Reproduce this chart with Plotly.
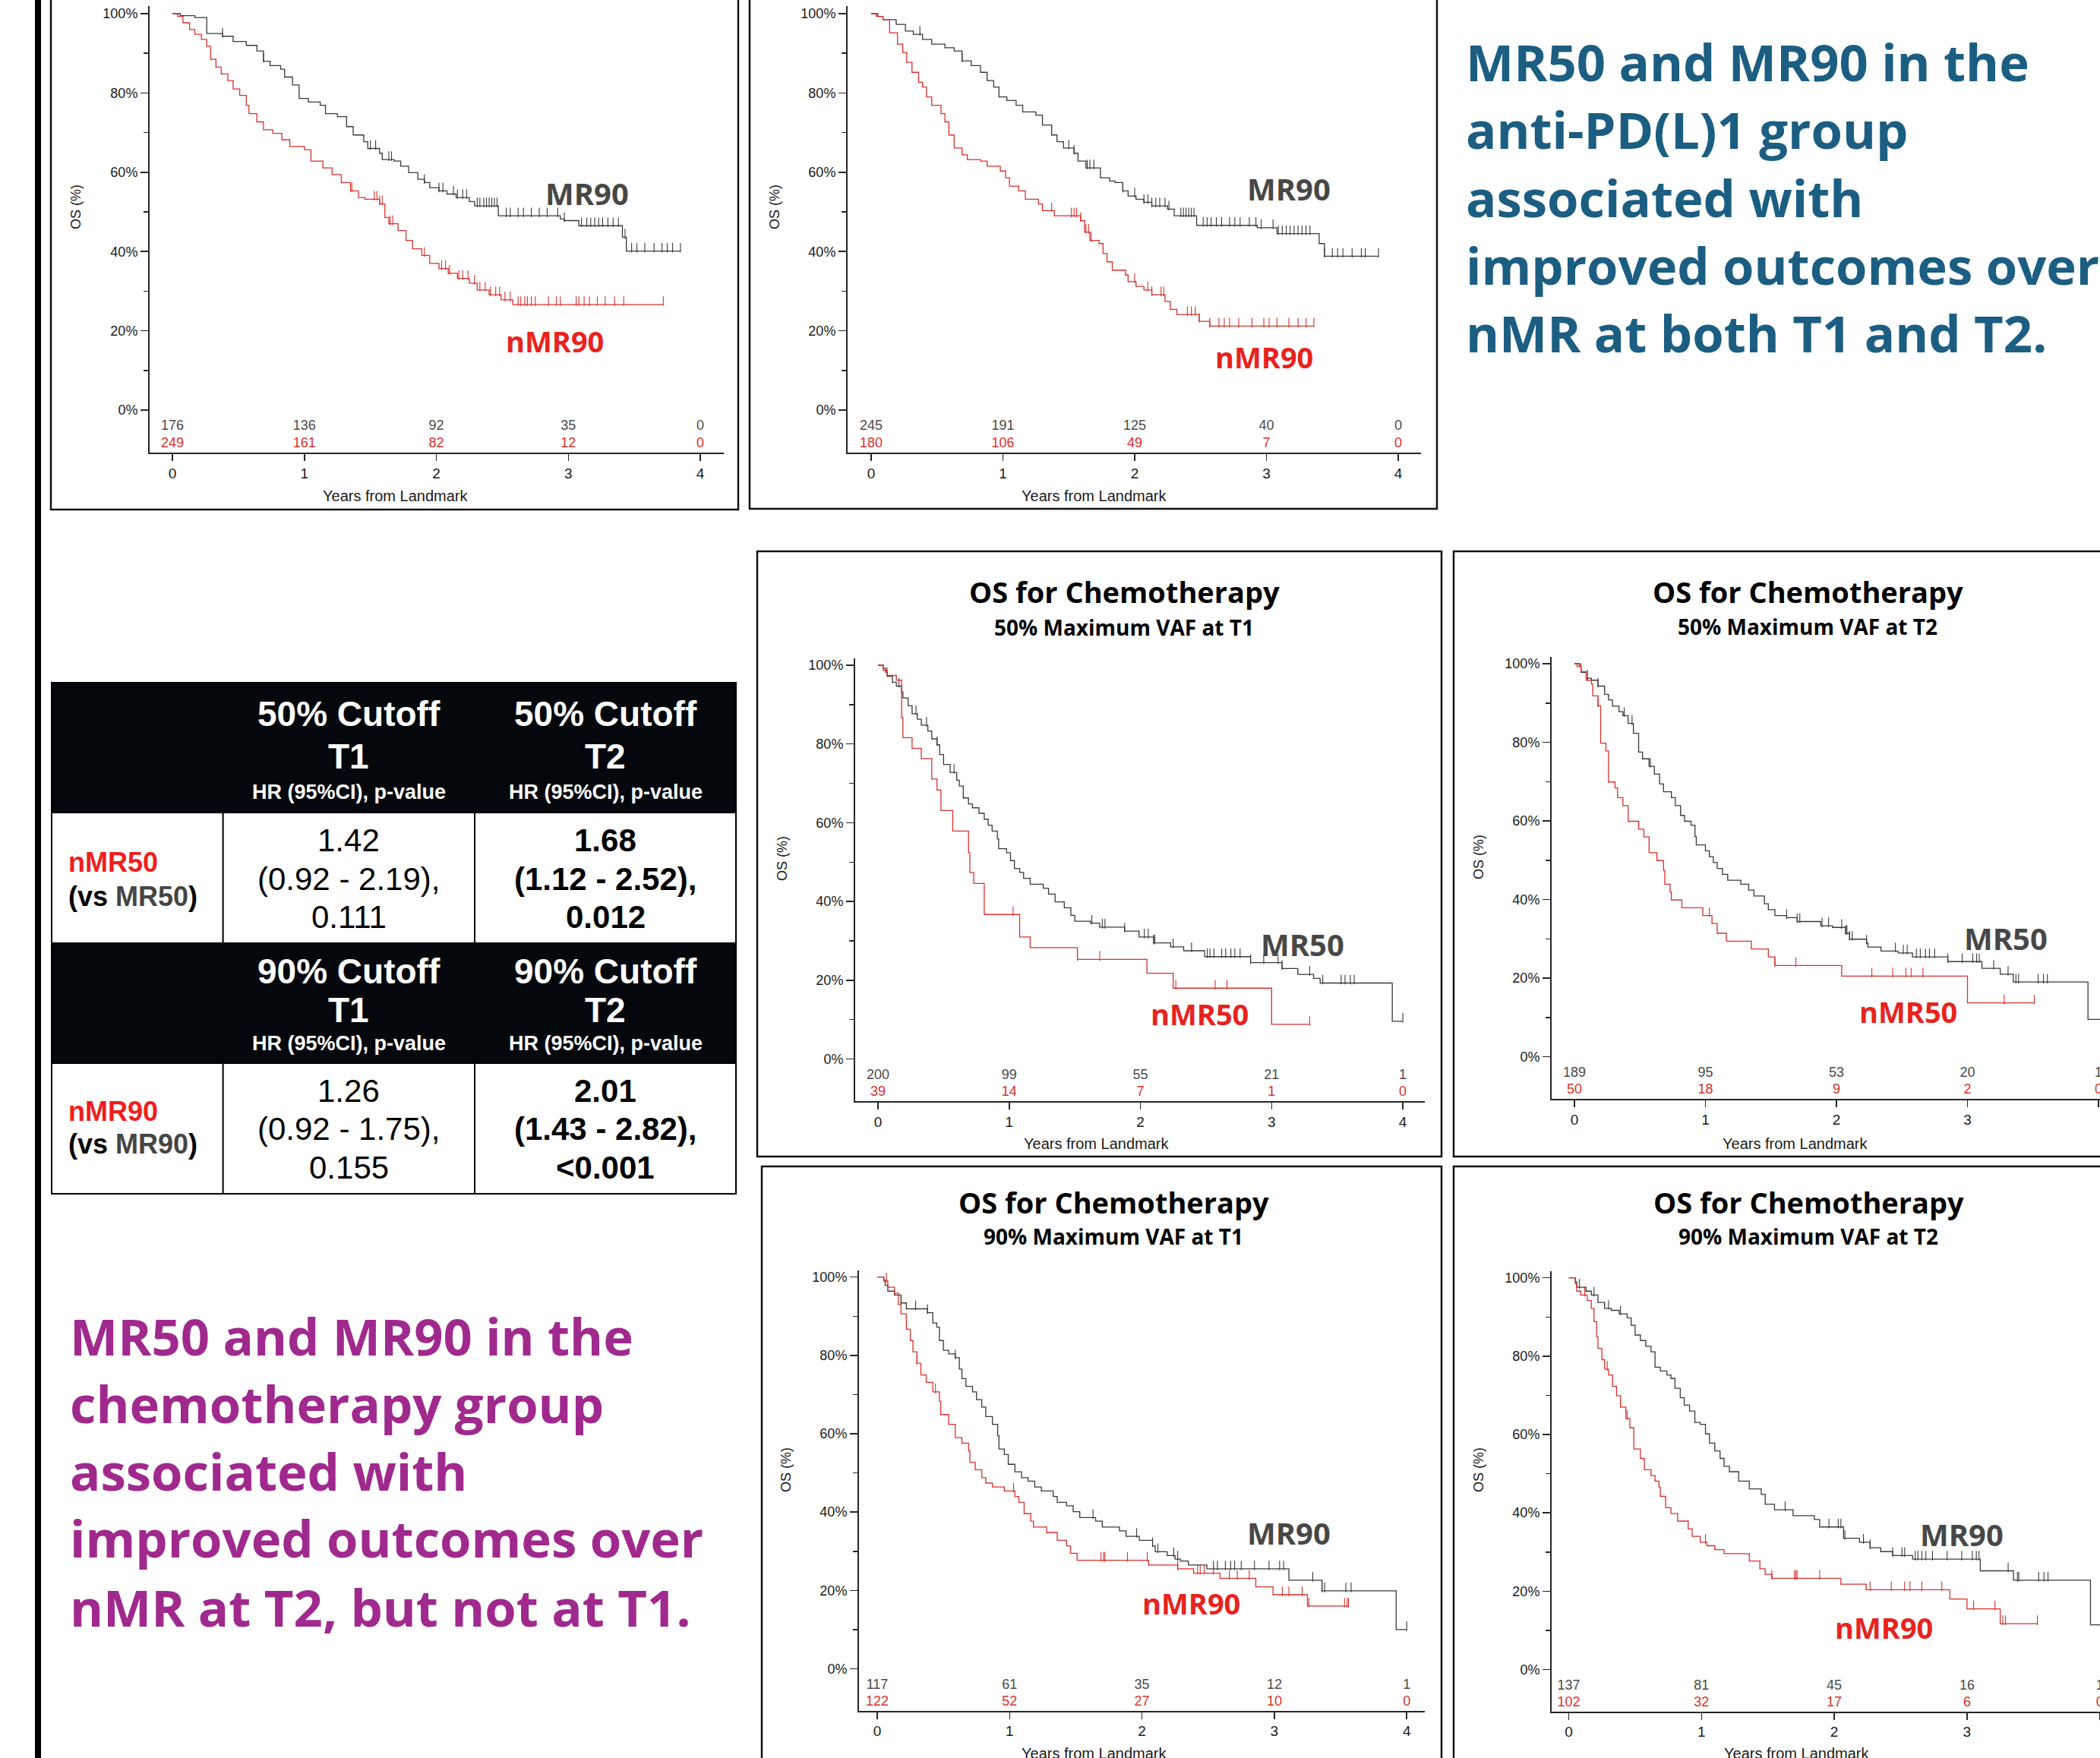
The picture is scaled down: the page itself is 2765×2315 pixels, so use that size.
import plotly.graph_objects as go

W, H = 2765, 2315
SANS = "Liberation Sans, Arial, sans-serif"
HEAD = "Open Sans, sans-serif"

# ---------------- DATA ----------------
RISK_X = [0, 1, 2, 3, 4]

# Panel A: anti-PD(L)1, 90% max VAF at T1
A_MR_T = [0, 0.06, 0.17, 0.26, 0.38, 0.46, 0.56, 0.64, 0.69, 0.74, 0.82, 0.85, 0.91, 0.96, 1.03, 1.12, 1.16, 1.25, 1.32, 1.37, 1.45, 1.48, 1.57, 1.59, 1.68, 1.73, 1.79, 1.86, 1.91, 1.95, 2.02, 2.08, 2.15, 2.25, 2.29, 2.47, 2.94, 2.97, 3.08, 3.41, 3.44, 3.85]
A_MR_S = [100, 99.5, 99.0, 95.0, 94.3, 93.0, 92.0, 90.6, 88.0, 86.9, 86.0, 84.0, 82.0, 78.6, 77.7, 76.9, 74.8, 74.0, 71.5, 69.4, 67.7, 66.0, 64.8, 63.2, 62.8, 61.5, 59.9, 58.2, 57.4, 56.1, 55.3, 54.5, 53.6, 52.6, 51.5, 49.0, 48.2, 47.8, 46.5, 43.6, 40.1, 40.1]
A_MR_CENS = [0.38, 0.69, 1.50, 1.54, 1.64, 1.66, 1.91, 2.02, 2.05, 2.13, 2.16, 2.20, 2.23, 2.31, 2.33, 2.36, 2.38, 2.40, 2.42, 2.44, 2.46, 2.53, 2.56, 2.62, 2.66, 2.72, 2.78, 2.84, 2.92, 2.97, 3.10, 3.14, 3.17, 3.20, 3.23, 3.26, 3.30, 3.34, 3.38, 3.43, 3.48, 3.52, 3.58, 3.65, 3.71, 3.75, 3.79, 3.85]
A_NMR_T = [0, 0.04, 0.08, 0.13, 0.17, 0.22, 0.26, 0.29, 0.33, 0.37, 0.42, 0.46, 0.51, 0.56, 0.58, 0.64, 0.69, 0.76, 0.83, 0.89, 1.00, 1.05, 1.14, 1.21, 1.28, 1.35, 1.41, 1.46, 1.57, 1.61, 1.64, 1.71, 1.77, 1.82, 1.89, 1.95, 2.02, 2.09, 2.16, 2.25, 2.31, 2.40, 2.49, 2.58, 3.72]
A_NMR_S = [100, 99.3, 97.7, 96.0, 94.8, 93.5, 91.8, 88.5, 86.5, 84.8, 83.1, 81.0, 79.4, 76.9, 74.8, 72.7, 70.7, 69.8, 68.2, 66.5, 65.7, 62.8, 61.1, 59.4, 57.4, 55.3, 53.6, 53.2, 52.0, 48.6, 47.0, 45.3, 42.8, 40.7, 39.0, 37.0, 35.7, 34.5, 33.2, 32.0, 30.3, 29.1, 27.8, 26.6, 26.6]
A_NMR_CENS = [1.36, 1.53, 1.55, 1.57, 1.59, 1.65, 1.67, 1.91, 2.04, 2.07, 2.10, 2.17, 2.20, 2.24, 2.29, 2.33, 2.37, 2.41, 2.45, 2.48, 2.52, 2.56, 2.62, 2.64, 2.67, 2.69, 2.72, 2.75, 2.85, 2.91, 2.94, 3.06, 3.08, 3.12, 3.16, 3.22, 3.28, 3.35, 3.42, 3.72]
A_RISK_MR = [176, 136, 92, 35, 0]
A_RISK_NMR = [249, 161, 82, 12, 0]

# Panel B: anti-PD(L)1, 90% max VAF at T2
B_MR_T = [0, 0.05, 0.09, 0.19, 0.26, 0.32, 0.39, 0.46, 0.56, 0.63, 0.69, 0.76, 0.83, 0.88, 0.93, 0.97, 1.03, 1.10, 1.15, 1.25, 1.30, 1.37, 1.41, 1.46, 1.54, 1.57, 1.63, 1.74, 1.81, 1.85, 1.91, 1.95, 2.01, 2.07, 2.13, 2.25, 2.30, 2.47, 2.93, 3.08, 3.40, 3.44, 3.85]
B_MR_S = [100, 99.3, 98.5, 97.3, 95.6, 94.8, 93.5, 92.3, 91.4, 90.6, 88.1, 86.9, 85.2, 83.1, 81.5, 79.0, 78.1, 76.9, 75.2, 74.4, 71.9, 69.4, 67.7, 66.1, 64.8, 62.8, 61.1, 58.6, 57.8, 57.4, 55.3, 54.0, 53.2, 52.4, 51.5, 50.7, 49.0, 46.6, 46.0, 44.5, 42.0, 38.8, 38.8]
B_MR_CENS = [0.37, 0.69, 1.50, 1.54, 1.64, 1.66, 1.69, 1.91, 2.00, 2.07, 2.10, 2.13, 2.16, 2.19, 2.23, 2.26, 2.35, 2.37, 2.39, 2.41, 2.43, 2.45, 2.52, 2.55, 2.58, 2.62, 2.66, 2.72, 2.76, 2.80, 2.87, 2.92, 2.96, 3.05, 3.09, 3.12, 3.15, 3.18, 3.21, 3.24, 3.27, 3.30, 3.33, 3.44, 3.50, 3.54, 3.58, 3.65, 3.72, 3.75, 3.85]
B_NMR_T = [0, 0.04, 0.09, 0.14, 0.20, 0.24, 0.27, 0.31, 0.36, 0.39, 0.42, 0.46, 0.53, 0.56, 0.59, 0.63, 0.69, 0.73, 0.83, 0.88, 0.98, 1.02, 1.05, 1.12, 1.17, 1.27, 1.30, 1.39, 1.59, 1.62, 1.66, 1.73, 1.76, 1.79, 1.83, 1.93, 1.95, 2.01, 2.07, 2.13, 2.23, 2.27, 2.32, 2.49, 2.57, 3.36]
B_NMR_S = [100, 99.3, 98.5, 95.2, 92.3, 90.2, 87.7, 85.2, 82.7, 81.5, 79.0, 76.9, 74.8, 72.7, 69.4, 66.1, 64.4, 63.2, 62.8, 61.5, 60.3, 58.6, 56.5, 55.3, 53.2, 52.0, 50.3, 49.0, 47.8, 44.9, 42.8, 42.0, 39.5, 37.4, 35.3, 34.1, 32.4, 31.2, 30.3, 29.1, 27.4, 25.4, 24.1, 22.4, 21.2, 21.2]
B_NMR_CENS = [1.37, 1.52, 1.54, 1.56, 1.59, 1.63, 1.65, 1.67, 2.00, 2.10, 2.13, 2.20, 2.22, 2.40, 2.43, 2.46, 2.49, 2.57, 2.64, 2.68, 2.72, 2.79, 2.89, 2.98, 3.02, 3.08, 3.17, 3.24, 3.30, 3.36]
B_RISK_MR = [245, 191, 125, 40, 0]
B_RISK_NMR = [180, 106, 49, 7, 0]

# Panel C: chemotherapy, 50% max VAF at T1
C_MR_T = [0, 0.04, 0.06, 0.07, 0.11, 0.14, 0.18, 0.19, 0.23, 0.26, 0.30, 0.33, 0.38, 0.41, 0.45, 0.47, 0.50, 0.55, 0.60, 0.62, 0.65, 0.69, 0.72, 0.77, 0.81, 0.84, 0.87, 0.91, 0.92, 0.98, 1.01, 1.04, 1.08, 1.11, 1.16, 1.26, 1.30, 1.35, 1.42, 1.47, 1.50, 1.62, 1.69, 1.88, 1.99, 2.10, 2.23, 2.33, 2.49, 2.84, 3.08, 3.20, 3.32, 3.37, 3.92, 4.00]
C_MR_S = [100, 99.2, 98.2, 97.2, 95.7, 94.7, 93.2, 91.7, 89.7, 87.7, 86.3, 84.8, 83.3, 81.3, 79.8, 77.3, 74.8, 72.8, 70.8, 69.3, 66.3, 64.8, 63.8, 62.4, 60.9, 59.4, 57.9, 55.9, 53.4, 52.4, 50.4, 48.4, 47.4, 45.9, 44.4, 43.4, 41.9, 39.9, 38.4, 36.5, 35.0, 34.5, 33.5, 32.5, 31.0, 29.5, 28.5, 27.5, 26.0, 24.5, 23.0, 21.5, 20.5, 19.3, 9.6, 9.6]
C_MR_CENS = [0.16, 0.29, 0.37, 0.45, 0.58, 1.63, 1.71, 1.73, 1.88, 2.03, 2.06, 2.10, 2.11, 2.25, 2.39, 2.51, 2.53, 2.56, 2.62, 2.65, 2.69, 2.72, 2.76, 2.84, 2.94, 3.05, 3.08, 3.29, 3.39, 3.53, 3.56, 3.60, 3.63, 4.00]
C_NMR_T = [0, 0.04, 0.07, 0.14, 0.18, 0.19, 0.26, 0.33, 0.41, 0.45, 0.48, 0.57, 0.69, 0.70, 0.73, 0.81, 1.08, 1.16, 1.52, 2.05, 2.25, 3.00, 3.29]
C_NMR_S = [100, 98.7, 97.4, 96.2, 86.7, 81.6, 78.9, 76.3, 71.1, 68.3, 63.1, 57.9, 52.4, 47.4, 44.6, 36.7, 31.0, 28.3, 25.3, 21.8, 18.0, 8.8, 8.8]
C_NMR_CENS = [0.07, 1.03, 1.52, 1.69, 2.27, 2.57, 2.66, 3.29]
C_RISK_MR = [200, 99, 55, 21, 1]
C_RISK_NMR = [39, 14, 7, 1, 0]

# Panel D: chemotherapy, 50% max VAF at T2
D_MR_T = [0, 0.04, 0.05, 0.09, 0.13, 0.18, 0.23, 0.26, 0.29, 0.34, 0.37, 0.41, 0.45, 0.49, 0.52, 0.57, 0.61, 0.65, 0.68, 0.74, 0.77, 0.81, 0.84, 0.89, 0.92, 0.93, 1.00, 1.03, 1.06, 1.09, 1.13, 1.17, 1.27, 1.33, 1.37, 1.45, 1.48, 1.53, 1.62, 1.70, 1.88, 1.97, 2.07, 2.10, 2.23, 2.24, 2.34, 2.47, 2.58, 2.85, 3.11, 3.25, 3.35, 3.92, 4.05]
D_MR_S = [100, 99.3, 97.8, 96.3, 95.8, 94.3, 92.2, 90.8, 89.2, 87.8, 86.8, 84.8, 82.3, 77.5, 75.8, 73.9, 71.9, 69.4, 67.4, 65.9, 63.9, 61.4, 59.9, 58.9, 56.0, 53.9, 52.4, 50.9, 49.4, 47.9, 46.4, 44.9, 43.9, 42.4, 40.9, 38.9, 37.4, 35.9, 35.4, 34.4, 33.3, 32.9, 31.4, 29.9, 28.9, 27.9, 26.9, 26.4, 25.4, 24.2, 22.5, 21.0, 19.0, 9.5, 9.5]
D_MR_CENS = [0.10, 0.18, 0.38, 0.44, 0.58, 1.62, 1.70, 1.72, 1.89, 1.94, 2.04, 2.07, 2.08, 2.10, 2.12, 2.23, 2.45, 2.51, 2.54, 2.61, 2.64, 2.68, 2.71, 2.75, 2.85, 2.96, 3.04, 3.07, 3.09, 3.20, 3.31, 3.37, 3.39, 3.54, 3.58, 3.61]
D_NMR_T = [0, 0.02, 0.05, 0.09, 0.13, 0.14, 0.18, 0.20, 0.24, 0.26, 0.31, 0.33, 0.37, 0.41, 0.49, 0.53, 0.57, 0.63, 0.68, 0.69, 0.73, 0.74, 0.82, 0.98, 1.05, 1.09, 1.16, 1.35, 1.48, 1.53, 2.04, 3.00, 3.51]
D_NMR_S = [100, 99.3, 98.0, 95.8, 94.8, 91.8, 89.3, 79.8, 77.8, 69.9, 68.4, 65.9, 63.9, 59.9, 57.9, 55.9, 51.9, 49.9, 47.4, 43.9, 41.9, 39.9, 37.9, 35.9, 33.9, 31.4, 29.4, 27.4, 25.4, 23.2, 20.5, 13.7, 13.7]
D_NMR_CENS = [0.05, 0.18, 1.03, 1.53, 1.69, 2.27, 2.43, 2.53, 2.57, 2.66, 3.28, 3.51]
D_RISK_MR = [189, 95, 53, 20, 1]
D_RISK_NMR = [50, 18, 9, 2, 0]

# Panel E: chemotherapy, 90% max VAF at T1
E_MR_T = [0, 0.05, 0.06, 0.08, 0.13, 0.18, 0.22, 0.38, 0.42, 0.45, 0.47, 0.50, 0.54, 0.59, 0.62, 0.64, 0.67, 0.72, 0.75, 0.79, 0.82, 0.87, 0.91, 0.92, 0.96, 0.99, 1.04, 1.09, 1.14, 1.19, 1.24, 1.33, 1.36, 1.43, 1.48, 1.53, 1.65, 1.70, 1.83, 1.88, 1.98, 2.08, 2.10, 2.19, 2.25, 2.29, 2.35, 2.49, 3.11, 3.36, 3.92, 4.00]
E_MR_S = [100, 99.3, 97.9, 96.4, 95.4, 93.4, 91.9, 90.9, 88.3, 87.2, 83.8, 81.3, 80.4, 79.4, 76.5, 74.1, 72.1, 70.7, 68.7, 66.8, 64.4, 62.4, 59.5, 56.1, 54.7, 52.2, 50.3, 48.8, 47.9, 46.4, 45.4, 44.0, 42.5, 41.6, 40.1, 38.6, 37.7, 36.2, 35.2, 33.8, 32.8, 31.4, 29.9, 28.9, 28.0, 27.5, 26.5, 25.5, 22.6, 19.9, 10.0, 10.0]
E_MR_CENS = [0.18, 0.29, 0.38, 0.59, 1.63, 1.96, 2.08, 2.12, 2.24, 2.27, 2.54, 2.57, 2.63, 2.67, 2.70, 2.75, 2.85, 2.96, 3.04, 3.07, 3.29, 3.36, 3.38, 3.54, 3.58, 4.00]
E_NMR_T = [0, 0.05, 0.08, 0.13, 0.16, 0.18, 0.22, 0.25, 0.27, 0.30, 0.33, 0.37, 0.42, 0.47, 0.48, 0.54, 0.59, 0.64, 0.69, 0.70, 0.74, 0.79, 0.82, 0.87, 0.96, 1.04, 1.07, 1.11, 1.16, 1.18, 1.28, 1.36, 1.43, 1.46, 1.51, 2.05, 2.27, 2.39, 2.59, 2.86, 2.99, 3.25, 3.56]
E_NMR_S = [100, 99.0, 97.4, 95.9, 93.0, 90.6, 86.7, 83.8, 80.9, 78.0, 75.0, 73.1, 70.7, 68.3, 64.9, 62.4, 59.0, 57.6, 55.6, 52.7, 50.8, 48.8, 47.4, 46.4, 45.4, 44.0, 42.5, 39.6, 37.7, 36.2, 34.8, 32.8, 31.4, 29.5, 27.7, 26.5, 25.5, 24.4, 23.1, 20.9, 18.9, 16.0, 16.0]
E_NMR_CENS = [0.07, 0.30, 0.44, 1.03, 1.69, 1.71, 1.72, 1.89, 2.04, 2.27, 2.42, 2.44, 2.47, 2.54, 2.66, 2.72, 2.81, 3.06, 3.11, 3.21, 3.26, 3.53, 3.55, 3.56]
E_RISK_MR = [117, 61, 35, 12, 1]
E_RISK_NMR = [122, 52, 27, 10, 0]

# Panel F: chemotherapy, 90% max VAF at T2
F_MR_T = [0, 0.05, 0.06, 0.13, 0.17, 0.22, 0.27, 0.32, 0.38, 0.44, 0.47, 0.50, 0.54, 0.58, 0.62, 0.65, 0.69, 0.74, 0.77, 0.80, 0.84, 0.87, 0.91, 0.95, 0.99, 1.03, 1.06, 1.10, 1.14, 1.17, 1.21, 1.28, 1.36, 1.45, 1.48, 1.55, 1.69, 1.85, 1.89, 2.07, 2.19, 2.27, 2.35, 2.44, 2.59, 3.10, 3.35, 3.93, 4.05]
F_MR_S = [100, 99.0, 97.6, 96.6, 95.6, 93.7, 92.2, 91.7, 90.8, 89.8, 87.9, 85.4, 84.0, 82.5, 81.1, 77.2, 76.2, 75.2, 74.3, 71.8, 69.4, 67.5, 66.0, 63.1, 62.6, 60.2, 57.8, 55.8, 53.9, 51.9, 50.5, 48.1, 46.1, 44.7, 42.2, 40.8, 39.3, 38.3, 36.4, 33.5, 32.5, 31.1, 30.1, 29.1, 28.2, 25.2, 22.8, 11.4, 11.4]
F_MR_CENS = [0.08, 0.19, 0.30, 0.39, 1.63, 1.96, 2.03, 2.05, 2.08, 2.22, 2.27, 2.44, 2.51, 2.53, 2.61, 2.63, 2.66, 2.69, 2.74, 2.85, 2.96, 3.04, 3.07, 3.09, 3.31, 3.38, 3.39, 3.54, 3.58, 3.61]
F_NMR_T = [0, 0.05, 0.06, 0.09, 0.14, 0.17, 0.19, 0.21, 0.22, 0.25, 0.27, 0.30, 0.33, 0.36, 0.39, 0.43, 0.46, 0.49, 0.54, 0.57, 0.62, 0.65, 0.68, 0.69, 0.73, 0.77, 0.82, 0.90, 0.93, 0.99, 1.04, 1.10, 1.17, 1.36, 1.44, 1.48, 1.53, 2.05, 2.24, 2.87, 3.00, 3.25, 3.53]
F_NMR_S = [100, 98.5, 96.6, 95.6, 94.2, 92.2, 88.8, 85.0, 82.0, 79.1, 76.7, 75.2, 72.3, 69.9, 67.0, 64.1, 61.7, 56.3, 53.9, 51.0, 49.5, 48.1, 46.6, 44.2, 41.3, 39.8, 37.9, 35.9, 34.0, 32.5, 31.6, 30.6, 29.6, 27.7, 25.7, 24.3, 23.3, 21.8, 20.4, 18.0, 15.5, 11.7, 11.7]
F_NMR_CENS = [0.12, 0.29, 0.44, 1.03, 1.53, 1.70, 1.71, 1.72, 1.89, 2.27, 2.43, 2.53, 2.57, 2.66, 2.81, 3.05, 3.21, 3.27, 3.29, 3.53]
F_RISK_MR = [137, 81, 45, 16, 1]
F_RISK_NMR = [102, 32, 17, 6, 0]

PANEL_LABELS = [("MR90", "nMR90"), ("MR90", "nMR90"), ("MR50", "nMR50"),
                ("MR50", "nMR50"), ("MR90", "nMR90"), ("MR90", "nMR90")]
CHEMO_TITLE = "OS for Chemotherapy"
CHEMO_SUBTITLES = ["50% Maximum VAF at T1", "50% Maximum VAF at T2",
                   "90% Maximum VAF at T1", "90% Maximum VAF at T2"]
Y_TICKS = [0, 20, 40, 60, 80, 100]
Y_TICKTEXT = ["0%", "20%", "40%", "60%", "80%", "100%"]
Y_MINOR = [10, 30, 50, 70, 90]

TABLE_HEAD_1 = [["50% Cutoff", "T1", "HR (95%CI), p-value"], ["50% Cutoff", "T2", "HR (95%CI), p-value"]]
TABLE_HEAD_2 = [["90% Cutoff", "T1", "HR (95%CI), p-value"], ["90% Cutoff", "T2", "HR (95%CI), p-value"]]
TABLE_ROW_1 = [["1.42", "(0.92 - 2.19),", "0.111"], ["1.68", "(1.12 - 2.52),", "0.012"]]
TABLE_ROW_2 = [["1.26", "(0.92 - 1.75),", "0.155"], ["2.01", "(1.43 - 2.82),", "&lt;0.001"]]
ROW_LABELS = [("nMR50", "MR50"), ("nMR90", "MR90")]

BLUE_TEXT = ["MR50 and MR90 in the", "anti-PD(L)1 group", "associated with",
             "improved outcomes over", "nMR at both T1 and T2."]
PURPLE_TEXT = ["MR50 and MR90 in the", "chemotherapy group", "associated with",
               "improved outcomes over", "nMR at T2, but not at T1."]

# ---------------- STYLE / GEOMETRY ----------------
C_MR_LINE = "#3a3a3a"
C_NMR_LINE = "#d8312c"
C_MR_LABEL = "#474747"
C_NMR_LABEL = "#e8231e"
C_AXIS = "#262626"
C_BLUE = "#1b5e82"
C_PURPLE = "#a0298e"

# (x_left, x_right, x_zero, px_per_year, y_top, y_bottom, y_100, y_0)
GEOM = [
    (197, 953, 227, 173.75, 8, 596, 18, 540),
    (1116, 1871, 1147, 173.5, 8, 596, 18, 540),
    (1126, 1876, 1156, 172.75, 867, 1450, 876, 1394.6),
    (2043, 2765, 2073, 172.5, 865, 1447, 874, 1391.5),
    (1131, 1876, 1155, 174.3, 1673, 2252.6, 1681.7, 2197.5),
    (2043, 2765, 2065.5, 174.8, 1674, 2253.6, 1682.7, 2198.5),
]
FRAMES = [(67, -10, 972, 671), (987, -10, 1892, 670), (997, 726, 1898, 1523),
          (1914, 726, 2800, 1523), (1003, 1536, 1898, 2330), (1914, 1536, 2800, 2330)]
LABEL_POS = [((773, 255), (731, 449)), ((1697, 249), (1664, 470)),
             ((1715, 1243), (1579, 1335)), ((2641, 1235), (2512, 1332)),
             ((1697, 2018), (1568, 2111)), ((2583, 2020), (2480, 2143))]
YTITLE_POS = [(100, 273), (1020, 273), (1030, 1131), (1947, 1129), (1035, 1936), (1947, 1936)]
XTITLE_POS = [(520, 653), (1440, 653), (1443, 1506), (2363, 1506), (1440, 2309), (2365, 2309)]
CHEMO_TITLE_POS = [(1480, 779, 825.5), (2380, 779, 825), (1466, 1582.5, 1628), (2381, 1582.5, 1628)]
CENSOR_LIFT_PX = 4.5

PANELS = [
    (A_MR_T, A_MR_S, A_MR_CENS, A_NMR_T, A_NMR_S, A_NMR_CENS, A_RISK_MR, A_RISK_NMR),
    (B_MR_T, B_MR_S, B_MR_CENS, B_NMR_T, B_NMR_S, B_NMR_CENS, B_RISK_MR, B_RISK_NMR),
    (C_MR_T, C_MR_S, C_MR_CENS, C_NMR_T, C_NMR_S, C_NMR_CENS, C_RISK_MR, C_RISK_NMR),
    (D_MR_T, D_MR_S, D_MR_CENS, D_NMR_T, D_NMR_S, D_NMR_CENS, D_RISK_MR, D_RISK_NMR),
    (E_MR_T, E_MR_S, E_MR_CENS, E_NMR_T, E_NMR_S, E_NMR_CENS, E_RISK_MR, E_RISK_NMR),
    (F_MR_T, F_MR_S, F_MR_CENS, F_NMR_T, F_NMR_S, F_NMR_CENS, F_RISK_MR, F_RISK_NMR),
]


def fx(x):
    return x / W


def fy(y):
    return 1 - y / H


def surv_at(t, ts, ss):
    v = ss[0]
    for ti, si in zip(ts, ss):
        if ti <= t + 1e-9:
            v = si
        else:
            break
    return v


fig = go.Figure()
layout_axes = {}
annotations = []
shapes = []

for i, (panel, geom) in enumerate(zip(PANELS, GEOM)):
    mr_t, mr_s, mr_c, nmr_t, nmr_s, nmr_c, risk_mr, risk_nmr = panel
    xl, xr, x0, ux, yt, yb, y100, y0 = geom
    uy = (y0 - y100) / 100.0
    lift = CENSOR_LIFT_PX / uy
    sfx = "" if i == 0 else str(i + 1)
    xa, ya = "x" + sfx, "y" + sfx

    for ts, ss, cs, col in ((mr_t, mr_s, mr_c, C_MR_LINE), (nmr_t, nmr_s, nmr_c, C_NMR_LINE)):
        n = min(len(ts), len(ss))
        ts, ss = ts[:n], ss[:n]
        fig.add_trace(go.Scatter(x=ts, y=ss, mode="lines", line=dict(color=col, width=1.3, shape="hv"),
                                 xaxis=xa, yaxis=ya, showlegend=False, hoverinfo="skip"))
        fig.add_trace(go.Scatter(x=cs, y=[surv_at(c, ts, ss) + lift for c in cs], mode="markers",
                                 marker=dict(symbol="line-ns", size=9, line=dict(color=col, width=1.1)),
                                 xaxis=xa, yaxis=ya, showlegend=False, hoverinfo="skip"))
    for vals, yv, col in ((risk_mr, -4.2, "#4a4a4a"), (risk_nmr, -8.5, "#d8312c")):
        fig.add_trace(go.Scatter(x=RISK_X, y=[yv] * len(RISK_X), mode="text",
                                 text=[str(v) for v in vals],
                                 textfont=dict(family=SANS, size=18, color=col),
                                 textposition="middle center", cliponaxis=False,
                                 xaxis=xa, yaxis=ya, showlegend=False, hoverinfo="skip"))

    layout_axes["xaxis" + sfx] = dict(
        domain=[fx(xl), fx(xr)], anchor=ya, range=[(xl - x0) / ux, (xr - x0) / ux],
        showline=True, linecolor=C_AXIS, linewidth=2, ticks="outside", ticklen=9, tickwidth=1.5,
        tickcolor=C_AXIS, tickvals=RISK_X, tickfont=dict(family=SANS, size=19, color="#1a1a1a"),
        showgrid=False, zeroline=False, fixedrange=True)
    layout_axes["yaxis" + sfx] = dict(
        domain=[fy(yb), fy(yt)], anchor=xa, range=[(y0 - yb) / uy, (y0 - yt) / uy],
        showline=True, linecolor=C_AXIS, linewidth=2, ticks="outside", ticklen=10, tickwidth=1.5,
        tickcolor=C_AXIS, tickvals=Y_TICKS, ticktext=Y_TICKTEXT,
        tickfont=dict(family=SANS, size=18, color="#1a1a1a"),
        minor=dict(tickvals=Y_MINOR, ticks="outside", ticklen=6, tickwidth=1.5, tickcolor=C_AXIS),
        showgrid=False, zeroline=False, fixedrange=True)

    # frame
    fx0, fy0, fx1, fy1 = FRAMES[i]
    shapes.append(dict(type="rect", xref="paper", yref="paper", x0=fx(fx0), x1=fx(fx1),
                       y0=fy(fy1), y1=fy(fy0), line=dict(color="#111111", width=2.5),
                       fillcolor="rgba(0,0,0,0)", layer="below"))
    # curve labels
    (mx, my), (nx, ny) = LABEL_POS[i]
    mr_lab, nmr_lab = PANEL_LABELS[i]
    annotations.append(dict(x=fx(mx), y=fy(my), xref="paper", yref="paper", text=mr_lab, showarrow=False,
                            xanchor="center", yanchor="middle",
                            font=dict(family=HEAD, size=40, color=C_MR_LABEL, weight=700)))
    annotations.append(dict(x=fx(nx), y=fy(ny), xref="paper", yref="paper", text=nmr_lab, showarrow=False,
                            xanchor="center", yanchor="middle",
                            font=dict(family=HEAD, size=38, color=C_NMR_LABEL, weight=700)))
    # axis titles
    ox, oy = YTITLE_POS[i]
    annotations.append(dict(x=fx(ox), y=fy(oy), xref="paper", yref="paper", text="OS (%)", showarrow=False,
                            textangle=-90, xanchor="center", yanchor="middle",
                            font=dict(family=SANS, size=18, color="#1a1a1a")))
    tx, ty = XTITLE_POS[i]
    annotations.append(dict(x=fx(tx), y=fy(ty), xref="paper", yref="paper", text="Years from Landmark",
                            showarrow=False, xanchor="center", yanchor="middle",
                            font=dict(family=SANS, size=20, color="#1a1a1a")))

# chemo titles
for (cx, ty1, ty2), sub in zip(CHEMO_TITLE_POS, CHEMO_SUBTITLES):
    annotations.append(dict(x=fx(cx), y=fy(ty1), xref="paper", yref="paper", text=CHEMO_TITLE,
                            showarrow=False, xanchor="center", yanchor="middle",
                            font=dict(family=HEAD, size=38, color="#000000", weight=700)))
    annotations.append(dict(x=fx(cx), y=fy(ty2), xref="paper", yref="paper", text=sub,
                            showarrow=False, xanchor="center", yanchor="middle",
                            font=dict(family=HEAD, size=28, color="#000000", weight=700)))

# left vertical bar
shapes.append(dict(type="rect", xref="paper", yref="paper", x0=fx(46), x1=fx(54), y0=fy(2330), y1=fy(-10),
                   fillcolor="#000000", line=dict(width=0), layer="below"))

# ---------------- TABLE ----------------
TX0, TX1 = 68, 969
TCOLS = [68, 293.6, 625, 969]
TROWS = [899, 1070, 1242, 1400, 1572]
HEAD_FILL = "#04070b"
for r in range(4):
    fill = HEAD_FILL if r in (0, 2) else "#ffffff"
    shapes.append(dict(type="rect", xref="paper", yref="paper", x0=fx(TX0), x1=fx(TX1),
                       y0=fy(TROWS[r + 1]), y1=fy(TROWS[r]), fillcolor=fill,
                       line=dict(color="#000000", width=2), layer="below"))
for r in (1, 3):
    for cxv in TCOLS[1:3]:
        shapes.append(dict(type="line", xref="paper", yref="paper", x0=fx(cxv), x1=fx(cxv),
                           y0=fy(TROWS[r + 1]), y1=fy(TROWS[r]), line=dict(color="#000000", width=2)))
col_centers = [(TCOLS[1] + TCOLS[2]) / 2, (TCOLS[2] + TCOLS[3]) / 2]
HEAD_Y = [(939.5, 996.5, 1043.5), (1279, 1329.5, 1374)]
VAL_Y = [(1106.6, 1158, 1207), (1436, 1486, 1537.5)]
LAB_Y = [(1135, 1180), (1464, 1507)]
for hi, head in enumerate((TABLE_HEAD_1, TABLE_HEAD_2)):
    for ci, lines in enumerate(head):
        for li, txt in enumerate(lines):
            annotations.append(dict(x=fx(col_centers[ci]), y=fy(HEAD_Y[hi][li]), xref="paper", yref="paper",
                                    text=txt, showarrow=False, xanchor="center", yanchor="middle",
                                    font=dict(family=SANS, size=46 if li < 2 else 27, color="#ffffff",
                                              weight=700)))
for ri, row in enumerate((TABLE_ROW_1, TABLE_ROW_2)):
    for ci, lines in enumerate(row):
        for li, txt in enumerate(lines):
            annotations.append(dict(x=fx(col_centers[ci]), y=fy(VAL_Y[ri][li]), xref="paper", yref="paper",
                                    text=txt, showarrow=False, xanchor="center", yanchor="middle",
                                    font=dict(family=SANS, size=42, color="#000000",
                                              weight=700 if ci == 1 else 400)))
    lab, ref = ROW_LABELS[ri]
    annotations.append(dict(x=fx(88), y=fy(LAB_Y[ri][0]), xref="paper", yref="paper", text=lab,
                            showarrow=False, xanchor="left", yanchor="middle",
                            font=dict(family=SANS, size=36, color="#f01e1e", weight=700)))
    annotations.append(dict(x=fx(88), y=fy(LAB_Y[ri][1]), xref="paper", yref="paper",
                            text='(vs <span style="color:#454545">' + ref + '</span>)',
                            showarrow=False, xanchor="left", yanchor="middle",
                            font=dict(family=SANS, size=36, color="#000000", weight=700)))

# ---------------- NARRATIVE TEXT ----------------
BLUE_Y = [81, 170, 260, 349, 438]
PURPLE_Y = [1759, 1848, 1937, 2025, 2116]
for txt, yv in zip(BLUE_TEXT, BLUE_Y):
    annotations.append(dict(x=fx(1928), y=fy(yv), xref="paper", yref="paper", text=txt, showarrow=False,
                            xanchor="left", yanchor="middle",
                            font=dict(family=HEAD, size=67, color=C_BLUE, weight=700)))
for txt, yv in zip(PURPLE_TEXT, PURPLE_Y):
    annotations.append(dict(x=fx(90), y=fy(yv), xref="paper", yref="paper", text=txt, showarrow=False,
                            xanchor="left", yanchor="middle",
                            font=dict(family=HEAD, size=67, color=C_PURPLE, weight=700)))

fig.update_layout(
    width=W, height=H, autosize=False,
    margin=dict(l=0, r=0, t=0, b=0, pad=0),
    paper_bgcolor="#ffffff", plot_bgcolor="rgba(0,0,0,0)",
    showlegend=False, shapes=shapes, annotations=annotations,
    **layout_axes,
)

fig.write_html("out.html",
               config={"displayModeBar": False, "staticPlot": True},
               post_script="document.body.style.margin='0';document.body.style.padding='0';"
                           "document.body.style.overflow='hidden';")
